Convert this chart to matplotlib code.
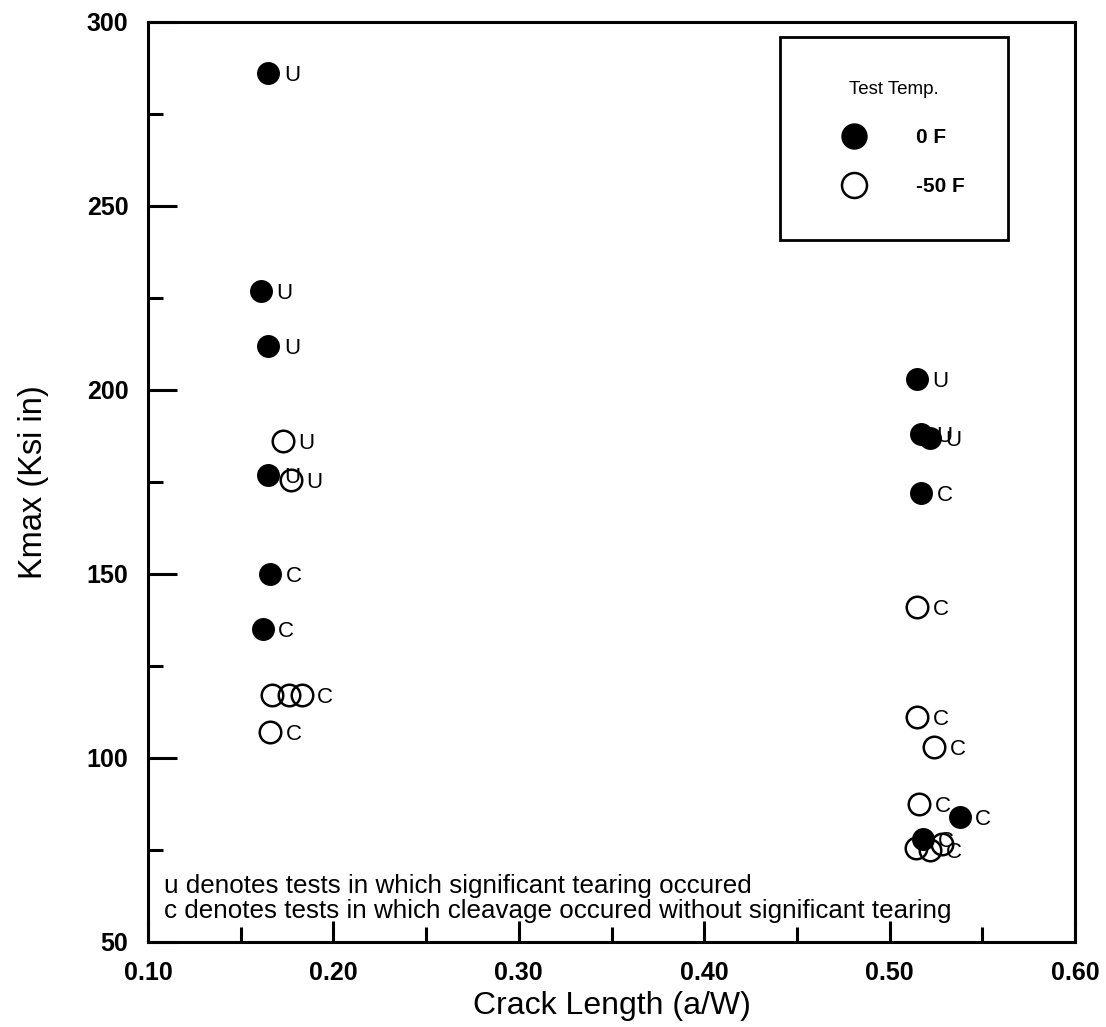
import matplotlib
matplotlib.use("Agg")
import matplotlib.pyplot as plt
from matplotlib.lines import Line2D
from matplotlib.ticker import MultipleLocator, FormatStrFormatter

plt.rcParams['font.family'] = ['Liberation Sans', 'DejaVu Sans']

# tests run at 0 F (solid circles)
warm_aw = [0.165, 0.161, 0.165, 0.165, 0.166, 0.162,
           0.515, 0.517, 0.522, 0.517, 0.538, 0.518]
warm_kmax = [286, 227, 212, 177, 150, 135,
             203, 188, 187, 172, 84, 78]
warm_mode = ['U', 'U', 'U', 'U', 'C', 'C',
             'U', 'U', 'U', 'C', 'C', 'C']

# tests run at -50 F (open circles)
cold_aw = [0.173, 0.177, 0.167, 0.176, 0.183, 0.166,
           0.515, 0.515, 0.524, 0.516, 0.514, 0.522, 0.528]
cold_kmax = [186, 175.5, 117, 117, 117, 107,
             141, 111, 103, 87.5, 75.5, 75, 76.5]
cold_mode = ['U', 'U', '', '', 'C', 'C',
             'C', 'C', 'C', 'C', '', 'C', '']

legend_labels = ['0 F', '-50 F']

fig = plt.figure(figsize=(11.06, 10.27), dpi=100)
ax = fig.add_axes([0.1338, 0.0828, 0.8382, 0.8958])

ms = 15.5
ax.plot(warm_aw, warm_kmax, 'o', color='black', markersize=ms,
        linestyle='none', zorder=3)
ax.plot(cold_aw, cold_kmax, 'o', markerfacecolor='none',
        markeredgecolor='black', markeredgewidth=1.8, markersize=ms,
        linestyle='none', zorder=4)

# failure mode letter beside each point
for xs, ys, modes in ((warm_aw, warm_kmax, warm_mode),
                      (cold_aw, cold_kmax, cold_mode)):
    for x, y, m in zip(xs, ys, modes):
        if m:
            ax.annotate(m, (x, y), xytext=(11, 0), textcoords='offset points',
                        ha='left', va='center_baseline', fontsize=16,
                        zorder=5)

ax.set_xlim(0.10, 0.60)
ax.set_ylim(50, 300)
ax.xaxis.set_major_locator(MultipleLocator(0.10))
ax.xaxis.set_minor_locator(MultipleLocator(0.05))
ax.yaxis.set_major_locator(MultipleLocator(50))
ax.yaxis.set_minor_locator(MultipleLocator(25))
ax.xaxis.set_major_formatter(FormatStrFormatter('%.2f'))

ax.tick_params(axis='x', which='major', direction='in', length=15, width=2.2,
               pad=14, labelsize=18)
ax.tick_params(axis='x', which='minor', direction='in', length=11, width=2.2)
ax.tick_params(axis='y', which='major', direction='in', length=21, width=2.2,
               pad=14, labelsize=18)
ax.tick_params(axis='y', which='minor', direction='in', length=11, width=2.2)
for lab in ax.get_xticklabels() + ax.get_yticklabels():
    lab.set_fontweight('bold')

for sp in ax.spines.values():
    sp.set_linewidth(2.2)

ax.set_xlabel('Crack Length (a/W)', fontsize=23, labelpad=4)
ax.set_ylabel('Kmax (Ksi in)', fontsize=23.5, labelpad=27)

ax.text(0.017, 0.074,
        'u denotes tests in which significant tearing occured\n'
        'c denotes tests in which cleavage occured without significant tearing',
        transform=ax.transAxes, fontsize=18.7, va='top', ha='left',
        linespacing=1.05)

handles = [
    Line2D([], [], marker='o', linestyle='none', color='black', markersize=18),
    Line2D([], [], marker='o', linestyle='none', markerfacecolor='none',
           markeredgecolor='black', markeredgewidth=1.8, markersize=18),
]
leg = ax.legend(handles, legend_labels, title='Test Temp.', loc='upper left',
                bbox_to_anchor=(0.682, 0.9837), borderaxespad=0,
                frameon=True, fancybox=False, edgecolor='black', framealpha=1,
                fontsize=15, title_fontsize=13.5, borderpad=2.1,
                labelspacing=1.45, handlelength=2.9, handletextpad=1.5)
leg.get_frame().set_linewidth(2.0)
for t in leg.get_texts():
    t.set_fontweight('bold')

fig.savefig('out.png', dpi=100)
